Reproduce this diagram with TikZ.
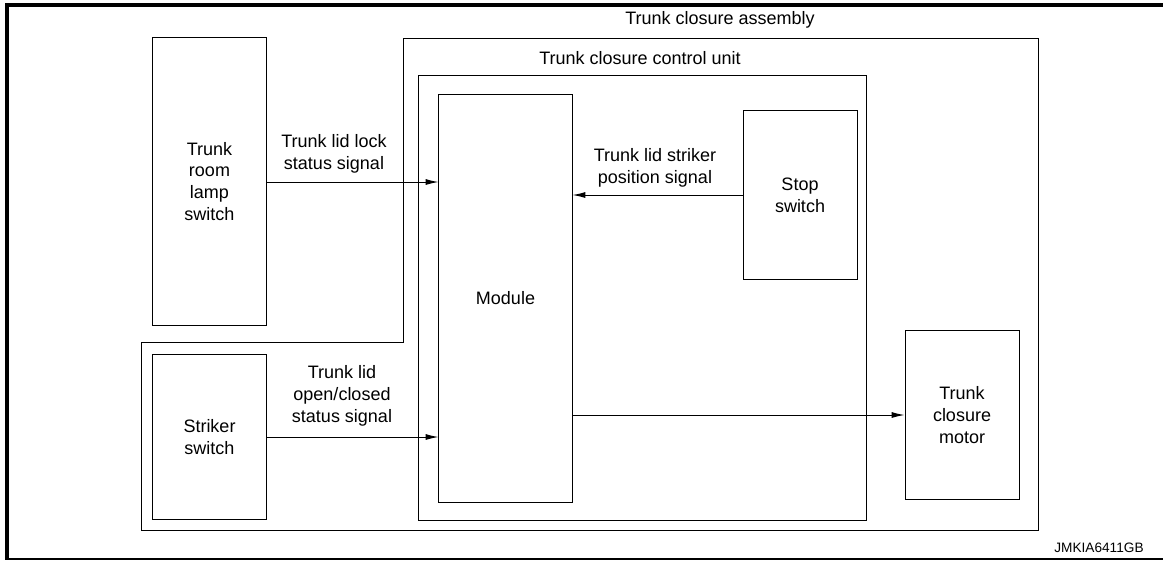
\documentclass[tikz,border=0pt]{standalone}
\usepackage{fontspec}
\setmainfont{Liberation Sans}
\usetikzlibrary{arrows.meta,positioning}

\begin{document}
\begin{tikzpicture}[x=0.025cm,y=-0.025cm,font=\fontsize{12.8}{15.6}\selectfont,line width=0.7pt]
\tikzset{blk/.style={draw,align=center,inner sep=0pt},
  sig/.style={-{Latex[length=3.2mm,width=1.5mm]}},
  lbl/.style={align=center,inner sep=0pt}}
\useasboundingbox (0,0) rectangle (1163,561);
% frame
\draw[line width=2.6pt] (7,559)--(7,5)--(1163,5);
\draw[line width=1.3pt] (5,559)--(1163,559);
\node[font=\fontsize{9.7}{11}\selectfont] (code) at (1099,548){JMKIA6411GB};
% assembly
\draw (141,342)--(403,342)--(403,38)--(1038,38)--(1038,530)--(141,530)--cycle;
\node[lbl] (asmtxt) at (720,20){Trunk closure assembly};
% control unit
\node[blk,minimum width=11.175cm,minimum height=11.1cm] (unit) at (642.5,298){};
\node[lbl] (unittxt) at (640,58){Trunk closure control unit};
\node[blk,minimum width=3.325cm,minimum height=10.175cm] (module) at (505.5,298.5){Module};
\node[blk,minimum width=2.85cm,minimum height=4.2cm] (stop) at (800,195){Stop\\switch};
% outside switches and motor
\node[blk,minimum width=2.825cm,minimum height=7.175cm] (lamp) at (209.5,181.5){Trunk\\room\\lamp\\switch};
\node[blk,minimum width=2.825cm,minimum height=4.1cm] (striker) at (209.5,437){Striker\\switch};
\node[blk,minimum width=2.85cm,minimum height=4.2cm] (motor) at (962,415){Trunk\\closure\\motor};
% signals
\draw[sig] (lamp.east|-0,182) -- (module.west|-0,182);
\node[lbl] (locktxt) at (334,154){Trunk lid lock\\status signal};
\draw[sig] (stop.west) -- (stop.west-|module.east);
\node[lbl] (postxt) at (655,168){Trunk lid striker\\position signal};
\draw[sig] (striker.east) -- (striker.east-|module.west);
\node[lbl] (opentxt) at (342,396){Trunk lid\\open/closed\\status signal};
\draw[sig] (motor.west-|module.east) -- (motor.west);
\end{tikzpicture}
\end{document}
